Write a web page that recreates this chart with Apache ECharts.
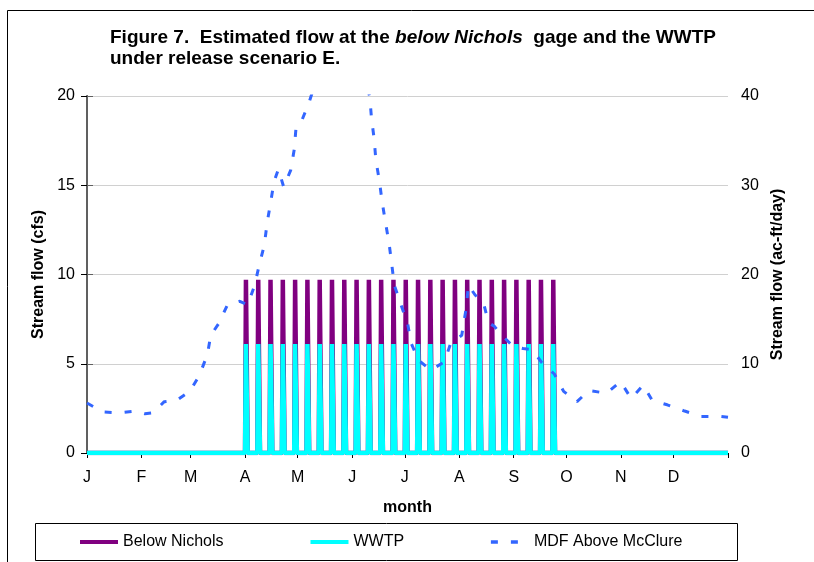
<!DOCTYPE html>
<html>
<head>
<meta charset="utf-8">
<script src="https://cdn.jsdelivr.net/npm/echarts@6/dist/echarts.min.js"></script>
<style>
  html, body { margin: 0; padding: 0; background: #fff; }
  #chart { width: 814px; height: 562px; }
</style>
</head>
<body>
<div id="chart"></div>
<script>
// day-of-year axis, ticks at month starts
const monthStarts = [0, 31, 59, 90, 120, 151, 181, 212, 243, 273, 304, 334, 365];
const monthLabels = ['J', 'F', 'M', 'A', 'M', 'J', 'J', 'A', 'S', 'O', 'N', 'D'];

// weekly release pulses (day of year) and their peak flows (cfs)
const pulseDays = [91, 98, 105, 112, 119, 126, 133, 140, 147, 154, 161, 168, 175,
  182, 189, 196, 203, 210, 217, 224, 231, 238, 245, 252, 259, 266];
const belowNicholsPeak = 9.7;
const wwtpPeak = 6.1;

// MDF above McClure (ac-ft/day)
const mdfDays = [0, 9, 18.5, 28, 33, 37.5, 44, 51, 58.5, 64, 68.5, 70.5, 75, 80, 87, 91.5,
  95.5, 98, 101, 102.5, 104.5, 106.5, 109, 112, 116, 118, 119, 122, 126.5, 130, 140, 150,
  157, 161, 162, 163.5, 164.5, 166.5, 168, 170, 172, 173.5, 175, 178.6, 182.6, 184.4, 188.7,
  195.8, 203.5, 207.1, 213.4, 215.9, 217.2, 221, 225.8, 228.6, 231.9, 236.3, 242.3, 248.3,
  253.4, 259.1, 266.1, 271.4, 279, 285.7, 295.8, 303.8, 309.9, 316.7, 321.8, 330.4, 340.3,
  349.8, 360.4, 365];
const mdfValues = [5.6, 4.6, 4.5, 4.7, 4.4, 4.5, 5.75, 5.9, 6.9, 8.7, 11, 13.2, 14.5, 16.6, 17, 16.6,
  18.8, 21, 23.3, 25.7, 28, 30.4, 31.8, 29.8, 31.7, 34, 36.4, 37.1, 39.3, 41.5, 46, 47,
  43, 39.9, 37.5, 35.2, 32.8, 30.5, 28.2, 25.8, 23.5, 21.2, 18.8, 16.7, 14.5, 12.4, 10.4,
  9.3, 10.2, 12.3, 13.2, 16.2, 18.8, 17.7, 16.8, 14.6, 14.2, 13.2, 12, 11.7,
  11.6, 10.1, 8.85, 6.9, 5.75, 7.0, 6.7, 8.0, 6.1, 7.6, 5.9, 5.4, 4.7,
  4.1, 4.1, 4.0];

const FONT = '"Liberation Sans", Arial, sans-serif';

const pulseSeries = (peak) => {
  const pts = [[0, 0]];
  pulseDays.forEach((d) => {
    pts.push([d - 1, 0], [d, peak], [d + 1, 0]);
  });
  pts.push([365, 0]);
  return pts;
};

const chart = echarts.init(document.getElementById('chart'), null, { renderer: 'canvas' });

chart.setOption({
  animation: false,
  backgroundColor: '#fff',
  title: {
    left: 105,
    top: 22,
    text: '{b|Figure 7.  Estimated flow at the }{bi|below Nichols}{b|  gage and the WWTP}\n{b|under release scenario E.}',
    textStyle: {
      rich: {
        b: { fontFamily: FONT, fontWeight: 'bold', fontSize: 19, color: '#000', lineHeight: 21 },
        bi: { fontFamily: FONT, fontWeight: 'bold', fontStyle: 'italic', fontSize: 19, color: '#000', lineHeight: 21 },
      },
    },
  },
  grid: { left: 87, right: 86, top: 96, bottom: 109 },
  legend: {
    left: 73,
    top: 529,
    itemWidth: 38,
    itemHeight: 14,
    itemGap: 85,
    itemStyle: { opacity: 0 },
    textStyle: { fontFamily: FONT, fontSize: 16, color: '#000' },
    data: [
      { name: 'Below Nichols', lineStyle: { width: 4 } },
      { name: 'WWTP', lineStyle: { width: 4 } },
      { name: 'MDF Above McClure', lineStyle: { width: 3.5 } },
    ],
  },
  xAxis: [
    {
      type: 'value',
      min: 0,
      max: 365,
      name: 'month',
      nameLocation: 'middle',
      nameGap: 47,
      nameTextStyle: { fontFamily: FONT, fontSize: 16, fontWeight: 'bold', color: '#000' },
      axisLine: { show: true, lineStyle: { color: '#000', width: 1 } },
      axisTick: { show: true, length: 5, customValues: monthStarts, lineStyle: { color: '#000' } },
      axisLabel: {
        margin: 17,
        fontFamily: FONT,
        fontSize: 16,
        color: '#000',
        customValues: monthStarts.slice(0, 12),
        formatter: (v) => monthLabels[monthStarts.indexOf(v)] || '',
      },
      splitLine: { show: false },
    },
    {
      type: 'value',
      position: 'top',
      min: 0,
      max: 365,
      axisLine: { show: true, lineStyle: { color: '#8a8a8a', width: 1 } },
      axisTick: { show: false },
      axisLabel: { show: false },
      splitLine: { show: false },
    },
  ],
  yAxis: [
    {
      type: 'value',
      min: 0,
      max: 20,
      interval: 5,
      name: 'Stream flow (cfs)',
      nameLocation: 'middle',
      nameRotate: 90,
      nameGap: 38,
      nameTextStyle: { fontFamily: FONT, fontSize: 16, fontWeight: 'bold', color: '#000' },
      axisLine: { show: true, lineStyle: { color: '#000', width: 1 } },
      axisTick: { show: true, length: 6, lineStyle: { color: '#000' } },
      axisLabel: { margin: 12, fontFamily: FONT, fontSize: 16, color: '#000' },
      splitLine: { show: true, lineStyle: { color: '#d0d0d0', width: 1 } },
    },
    {
      type: 'value',
      min: 0,
      max: 40,
      interval: 10,
      position: 'right',
      name: 'Stream flow (ac-ft/day)',
      nameLocation: 'middle',
      nameRotate: 90,
      nameGap: 41,
      nameTextStyle: { fontFamily: FONT, fontSize: 16, fontWeight: 'bold', color: '#000' },
      axisLine: { show: true, lineStyle: { color: '#606060', width: 2 } },
      axisTick: { show: true, length: 6, lineStyle: { color: '#606060' } },
      axisLabel: { margin: 13, fontFamily: FONT, fontSize: 16, color: '#000' },
      splitLine: { show: false },
    },
  ],
  series: [
    {
      name: 'Below Nichols',
      type: 'line',
      yAxisIndex: 0,
      step: 'middle',
      symbol: 'none',
      color: '#800080',
      lineStyle: { color: '#800080', width: 4.5 },
      data: pulseSeries(belowNicholsPeak),
    },
    {
      name: 'WWTP',
      type: 'line',
      yAxisIndex: 0,
      step: 'middle',
      symbol: 'none',
      color: '#00ffff',
      lineStyle: { color: '#00ffff', width: 4.5 },
      data: pulseSeries(wwtpPeak),
    },
    {
      name: 'MDF Above McClure',
      type: 'line',
      yAxisIndex: 1,
      symbol: 'none',
      color: '#3366ff',
      clip: true,
      lineStyle: { color: '#3366ff', width: 3, type: [7, 13] },
      data: mdfDays.map((d, i) => [d, mdfValues[i]]),
    },
  ],
  graphic: [
    {
      type: 'rect',
      silent: true,
      shape: { x: 7.5, y: 10.5, width: 900, height: 700 },
      style: { fill: 'none', stroke: '#000', lineWidth: 1 },
    },
    {
      type: 'rect',
      silent: true,
      shape: { x: 35.5, y: 523.5, width: 702, height: 37 },
      style: { fill: 'none', stroke: '#000', lineWidth: 1 },
    },
  ],
});
</script>
</body>
</html>
